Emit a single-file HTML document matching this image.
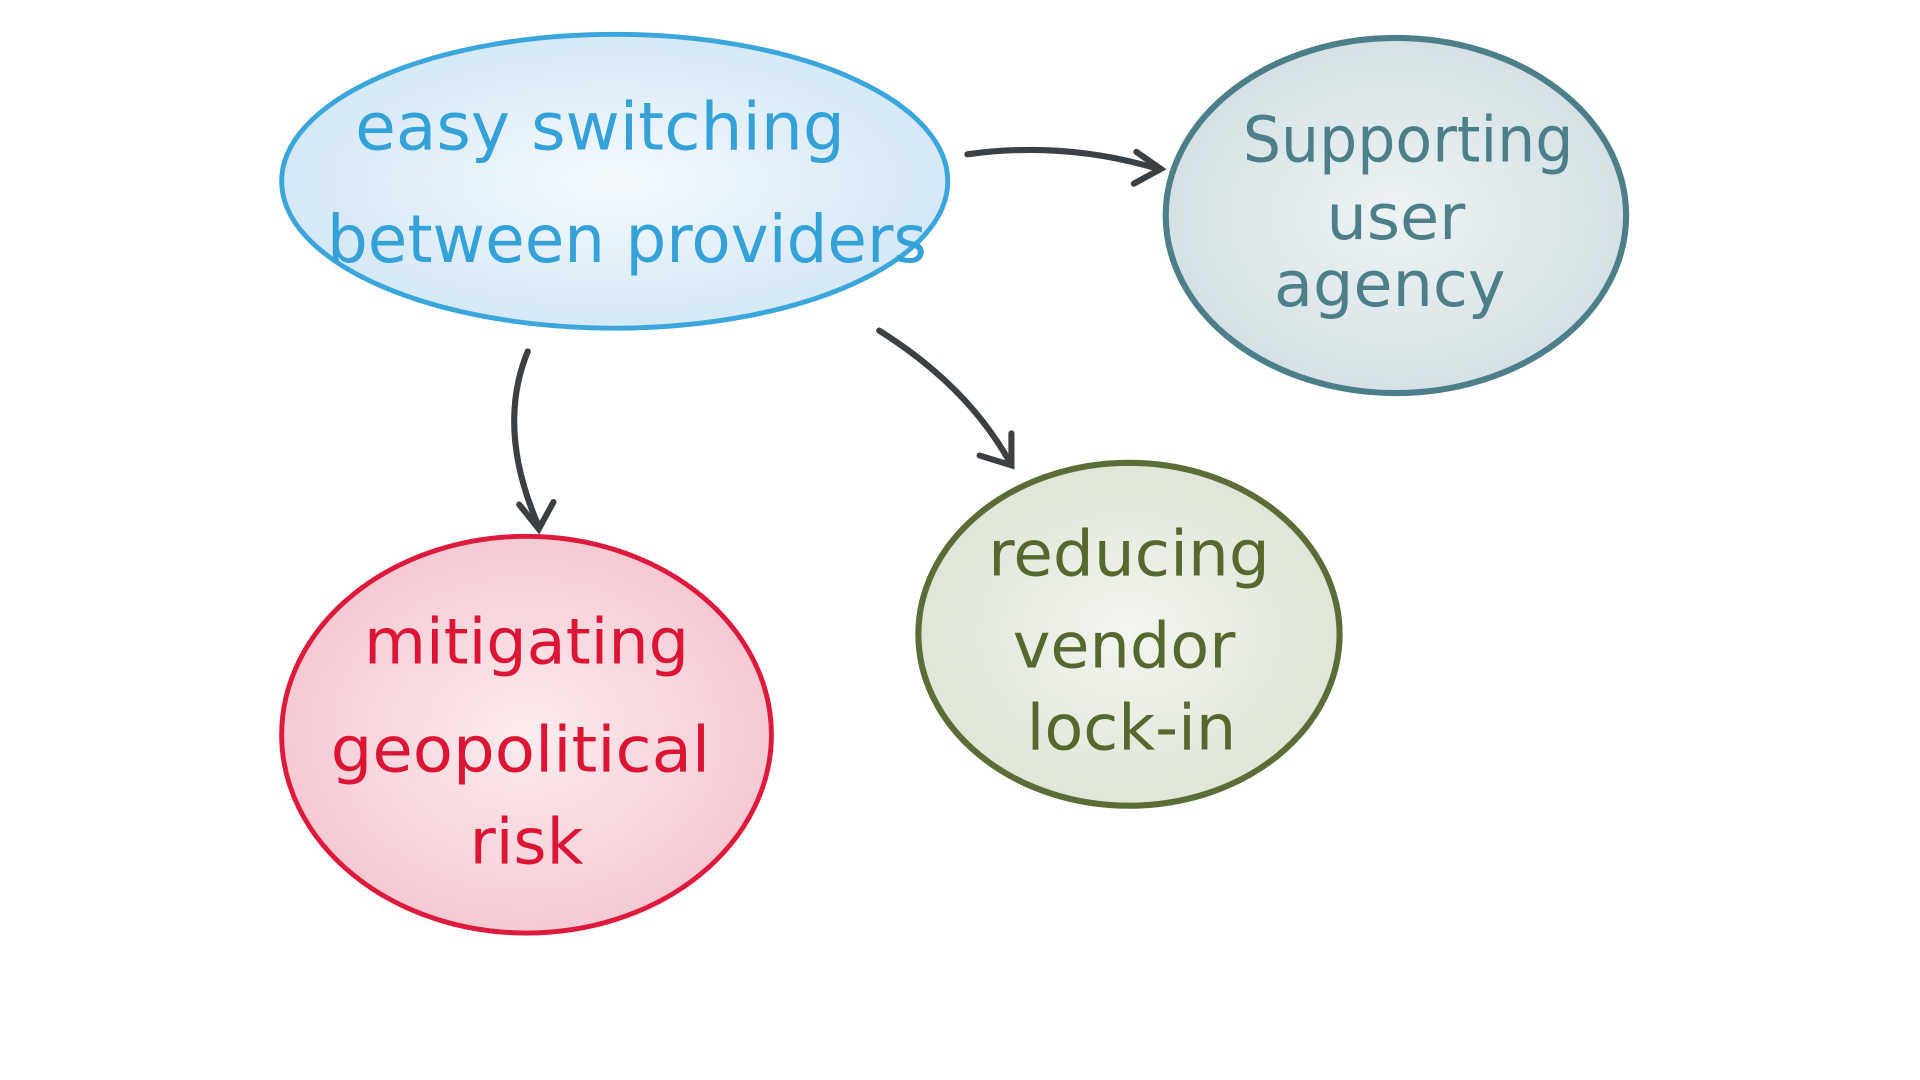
<!DOCTYPE html>
<html><head><meta charset="utf-8"><style>
html,body{margin:0;padding:0;background:#fff;width:1920px;height:1080px;overflow:hidden}
svg{display:block}
text{font-family:"DejaVu Sans","Liberation Sans",sans-serif;text-anchor:middle}
</style></head><body>
<svg width="1920" height="1080" viewBox="0 0 1568 882" xmlns="http://www.w3.org/2000/svg">
<defs>
<radialGradient id="gb" cx="50%" cy="50%" r="60%"><stop offset="0" stop-color="#f4f9fd"/><stop offset="1" stop-color="#cfe5f4"/></radialGradient>
<radialGradient id="gt" cx="50%" cy="50%" r="60%"><stop offset="0" stop-color="#eef3f4"/><stop offset="1" stop-color="#cfdde0"/></radialGradient>
<radialGradient id="gg" cx="50%" cy="50%" r="60%"><stop offset="0" stop-color="#f3f5ef"/><stop offset="1" stop-color="#dbe2d2"/></radialGradient>
<radialGradient id="gr" cx="50%" cy="50%" r="60%"><stop offset="0" stop-color="#fcecef"/><stop offset="1" stop-color="#f4c3cd"/></radialGradient>
</defs>
<ellipse cx="502" cy="148" rx="272" ry="120" fill="url(#gb)" stroke="#3aa6dc" stroke-width="4"/>
<ellipse cx="1140" cy="176" rx="188" ry="145" fill="url(#gt)" stroke="#4c7f89" stroke-width="5"/>
<ellipse cx="922" cy="518" rx="172" ry="140" fill="url(#gg)" stroke="#5a6d36" stroke-width="5"/>
<ellipse cx="430" cy="600" rx="200" ry="162" fill="url(#gr)" stroke="#de1a3c" stroke-width="4"/>
<g fill="none" stroke="#3b4045" stroke-width="5" stroke-linecap="round">
<path d="M790 126 Q870 115 946 138"/><path d="M928 124 L948 138 L926 150"/>
<path d="M431 287 Q405 350 440 430"/><path d="M424 412 L440 432 L452 410"/>
<path d="M718 270 Q790 315 825 378"/><path d="M800 372 L826 380 L826 354"/>
</g>
<g fill="#34a1d8" font-size="54"><text x="490" y="122" textLength="400" lengthAdjust="spacingAndGlyphs">easy switching</text><text x="512" y="214" textLength="490" lengthAdjust="spacingAndGlyphs">between providers</text></g>
<g fill="#4c7f89" font-size="52"><text x="1150" y="132" textLength="270" lengthAdjust="spacingAndGlyphs">Supporting</text><text x="1140" y="195">user</text><text x="1135" y="250">agency</text></g>
<g fill="#55692f" font-size="52"><text x="922" y="470" textLength="230" lengthAdjust="spacingAndGlyphs">reducing</text><text x="918" y="545">vendor</text><text x="924" y="612">lock-in</text></g>
<g fill="#dd1535" font-size="52"><text x="430" y="542">mitigating</text><text x="425" y="630" textLength="310" lengthAdjust="spacingAndGlyphs">geopolitical</text><text x="430" y="705">risk</text></g>
</svg>
</body></html>
